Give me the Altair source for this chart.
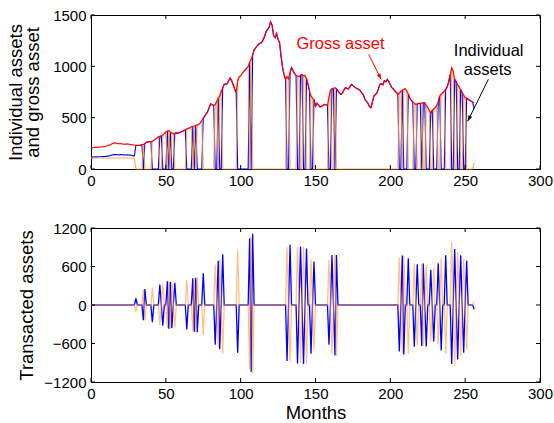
import altair as alt
import pandas as pd

# ---------------- data ----------------
month_ticks = [0, 50, 100, 150, 200, 250, 300]
asset_ticks = [0, 500, 1000, 1500]
trade_ticks = [-1200, -600, 0, 600, 1200]

# gross asset, one value per month 0..256
gross = [
    208, 209, 210, 212, 211, 213, 214, 216, 218, 220,
    222, 226, 232, 238, 245, 252, 254, 250, 248, 247,
    248, 244, 240, 242, 244, 243, 240, 238, 235, 232,
    231, 229, 230, 232, 236, 240, 248, 260, 263, 266,
    267, 272, 280, 290, 300, 313, 318, 322, 330, 345,
    360, 370, 375, 360, 350, 345, 348, 352, 350, 355,
    360, 365, 375, 380, 391, 395, 400, 410, 415, 418,
    425, 430, 433, 450, 470, 495, 515, 540, 560, 600,
    635, 625, 619, 625, 660, 690, 710, 760, 790, 824,
    828, 830, 860, 886, 860, 820, 780, 743, 860, 899,
    905, 930, 950, 964, 980, 1000, 1040, 1068, 1110, 1160,
    1180, 1200, 1215, 1225, 1231, 1260, 1290, 1339, 1360, 1380,
    1433, 1400, 1300, 1280, 1320, 1260, 1231, 1100, 987, 920,
    873, 900, 880, 940, 987, 960, 930, 912, 905, 900,
    912, 918, 910, 912, 880, 824, 760, 710, 690, 677,
    612, 640, 619, 605, 610, 620, 629, 625, 620, 700,
    769, 780, 785, 792, 780, 760, 740, 726, 740, 770,
    792, 785, 780, 800, 824, 815, 800, 790, 782, 775,
    760, 740, 720, 677, 660, 640, 610, 596, 650, 710,
    725, 740, 780, 824, 830, 820, 860, 850, 873, 850,
    820, 792, 780, 760, 745, 726, 740, 755, 770, 775,
    782, 760, 730, 694, 670, 650, 640, 629, 635, 640,
    638, 642, 645, 645, 620, 600, 570, 547, 570, 585,
    596, 620, 650, 710, 730, 740, 760, 775, 800, 850,
    920, 987, 950, 873, 850, 820, 800, 775, 745, 720,
    694, 690, 680, 670, 660, 652, 645,
]

# months 0..29: both individual assets held
blue_early = [115, 116, 117, 118, 118, 119, 120, 120, 121, 122,
              123, 125, 128, 132, 136, 140, 141, 140, 139, 138,
              140, 139, 138, 137, 138, 136, 135, 134, 130, 128]
orange_early = [107, 107, 107, 107, 107, 107, 107, 107, 107, 107,
                107, 107, 107, 107, 107, 107, 107, 107, 107, 107,
                107, 107, 107, 107, 107, 107, 107, 107, 106, 105]

# who holds the whole gross asset: (first month, last month, holder)
holder_runs = [
    (30, 34, "B"), (35, 35, "O"), (36, 40, "B"), (41, 45, "O"), (46, 47, "B"),
    (48, 50, "O"), (51, 51, "B"), (52, 52, "O"), (53, 53, "B"), (54, 55, "O"),
    (56, 63, "B"), (64, 67, "O"), (68, 68, "B"), (69, 69, "O"), (70, 70, "B"),
    (71, 74, "O"), (75, 82, "B"), (83, 84, "O"), (85, 85, "B"), (86, 87, "O"),
    (88, 97, "B"), (98, 105, "O"), (106, 106, "B"), (107, 107, "O"),
    (108, 130, "B"), (131, 132, "O"), (133, 137, "B"), (138, 139, "O"),
    (140, 141, "B"), (142, 143, "O"), (144, 146, "B"), (147, 148, "O"),
    (149, 158, "B"), (159, 160, "O"), (161, 162, "B"), (163, 163, "O"),
    (164, 205, "B"), (206, 207, "O"), (208, 208, "B"), (209, 211, "O"),
    (212, 215, "B"), (216, 217, "O"), (218, 220, "B"), (221, 221, "O"),
    (222, 223, "B"), (224, 226, "O"), (227, 228, "B"), (229, 231, "O"),
    (232, 233, "B"), (234, 236, "O"), (237, 240, "B"), (241, 242, "O"),
    (243, 244, "B"), (245, 246, "O"), (247, 248, "B"), (249, 250, "O"),
    (251, 255, "B"),
]
# last month: split again
last_blue = 585
last_orange = 60

# annotations
ann_text = ["Gross asset", "Individual", "assets"]
ann_month = [166.7, 265.7, 265.0]
ann_value = [1215, 1150, 964]
ann_color = ["#ff0000", "#000000", "#000000"]
arrow_month = [185.5, 265.5]
arrow_value = [1117, 874]
arrow_month2 = [193.9, 251.7]
arrow_value2 = [873, 465]
arrow_angle = [153, 206]
arrow_color = ["#ff0000", "#000000"]

# ---------------- build tables ----------------
N = len(gross)
holder = ["S"] * N
for s, e, h in holder_runs:
    for t in range(s, e + 1):
        holder[t] = h
blue, orange = [], []
for t in range(N):
    if t < 30:
        blue.append(blue_early[t]); orange.append(orange_early[t])
    elif holder[t] == "B":
        blue.append(gross[t]); orange.append(0)
    elif holder[t] == "O":
        blue.append(0); orange.append(gross[t])
    else:
        blue.append(last_blue); orange.append(last_orange)
blue_tx, orange_tx = [0], [0]
for t in range(1, N):
    if holder[t] != holder[t - 1] and t >= 30:
        blue_tx.append(blue[t] - blue[t - 1])
        orange_tx.append(orange[t] - orange[t - 1])
    else:
        blue_tx.append(0); orange_tx.append(0)

months = list(range(N))
df = pd.DataFrame({"month": months, "gross": gross, "blue": blue, "orange": orange,
                   "blue_tx": blue_tx, "orange_tx": orange_tx})
ann = pd.DataFrame({"text": ann_text, "month": ann_month, "value": ann_value, "color": ann_color})
arr = pd.DataFrame({"m": arrow_month, "v": arrow_value, "m2": arrow_month2, "v2": arrow_value2,
                    "angle": arrow_angle, "color": arrow_color})

W, H = 449, 154
FONT = "Liberation Sans"
xs = alt.Scale(domain=[0, 300], nice=False, zero=False)
ys_top = alt.Scale(domain=[0, 1500], nice=False)
ys_bot = alt.Scale(domain=[-1200, 1200], nice=False)


def xaxis(title=None):
    return alt.Axis(values=month_ticks, ticks=False, tickSize=0, domain=False, grid=False,
                    labelFontSize=15, labelPadding=4, labelFlush=False, labelOverlap=False,
                    labelColor="black", format="d", title=title,
                    titleFontSize=18.5, titleFontWeight="normal",
                    titleColor="black", titlePadding=2)


def yaxis(values, title, tpad):
    return alt.Axis(values=values, ticks=False, tickSize=0, domain=False, grid=False,
                    labelFontSize=15, labelPadding=5, labelColor="black", format="d",
                    labelOverlap=False, labelFlush=False, title=title,
                    titleFontSize=18.5, titleFontWeight="normal", titleColor="black",
                    titlePadding=tpad, titleLineHeight=17)


XA_TOP = xaxis(None)
XA_BOT = xaxis("Months")
YA_TOP = yaxis(asset_ticks, ["Individual assets", "and gross asset"], 10)
YA_BOT = yaxis(trade_ticks, "Transacted assets", 7)


def tick_layers(yvals, yscale, xa, ya):
    tx = pd.DataFrame({"t": month_ticks})
    ty = pd.DataFrame({"t": yvals})
    b = alt.Chart(tx).mark_rule(color="black", strokeWidth=1).encode(
        x=alt.X("t:Q", scale=xs, axis=xa), y=alt.value(H), y2=alt.value(H - 4))
    t = alt.Chart(tx).mark_rule(color="black", strokeWidth=1).encode(
        x=alt.X("t:Q", scale=xs, axis=xa), y=alt.value(0), y2=alt.value(4))
    l = alt.Chart(ty).mark_rule(color="black", strokeWidth=1).encode(
        y=alt.Y("t:Q", scale=yscale, axis=ya), x=alt.value(0), x2=alt.value(4))
    r = alt.Chart(ty).mark_rule(color="black", strokeWidth=1).encode(
        y=alt.Y("t:Q", scale=yscale, axis=ya), x=alt.value(W - 4), x2=alt.value(W))
    return [b, t, l, r]


base = alt.Chart(df)
top_blue = base.mark_line(color="#0000ff", strokeWidth=1.1).encode(
    x=alt.X("month:Q", scale=xs, axis=XA_TOP),
    y=alt.Y("blue:Q", scale=ys_top, axis=YA_TOP))
top_orange = base.mark_line(color="#ff9933", strokeWidth=1.2, opacity=0.8).encode(
    x=alt.X("month:Q", scale=xs, axis=XA_TOP), y=alt.Y("orange:Q", scale=ys_top, axis=YA_TOP))
top_red = base.mark_line(color="#ff0000", strokeWidth=1.3, opacity=0.9).encode(
    x=alt.X("month:Q", scale=xs, axis=XA_TOP), y=alt.Y("gross:Q", scale=ys_top, axis=YA_TOP))
ann_layer = alt.Chart(ann).mark_text(fontSize=16.5, font=FONT, align="center",
                                     baseline="middle").encode(
    x=alt.X("month:Q", scale=xs, axis=XA_TOP), y=alt.Y("value:Q", scale=ys_top, axis=YA_TOP),
    text="text:N", color=alt.Color("color:N", scale=None))
arrow_line = alt.Chart(arr).mark_rule(strokeWidth=1).encode(
    x=alt.X("m:Q", scale=xs, axis=XA_TOP), y=alt.Y("v:Q", scale=ys_top, axis=YA_TOP),
    x2="m2:Q", y2="v2:Q", color=alt.Color("color:N", scale=None))
arrow_head = alt.Chart(arr).mark_point(shape="M0,0L-0.45,1.2L0.45,1.2Z", filled=True,
                                       size=90, opacity=1).encode(
    x=alt.X("m2:Q", scale=xs, axis=XA_TOP), y=alt.Y("v2:Q", scale=ys_top, axis=YA_TOP),
    angle=alt.Angle("angle:Q", scale=None), color=alt.Color("color:N", scale=None))

top = alt.layer(top_blue, top_orange, top_red, ann_layer, arrow_line, arrow_head,
                *tick_layers(asset_ticks, ys_top, XA_TOP, YA_TOP)).properties(width=W, height=H)

bot_blue = base.mark_line(color="#0000ff", strokeWidth=1.3).encode(
    x=alt.X("month:Q", scale=xs, axis=XA_BOT),
    y=alt.Y("blue_tx:Q", scale=ys_bot, axis=YA_BOT))
bot_orange = base.mark_line(color="#ff9933", strokeWidth=1.3, opacity=0.6).encode(
    x=alt.X("month:Q", scale=xs, axis=XA_BOT), y=alt.Y("orange_tx:Q", scale=ys_bot, axis=YA_BOT))
bottom = alt.layer(bot_blue, bot_orange,
                   *tick_layers(trade_ticks, ys_bot, XA_BOT, YA_BOT)).properties(
    width=W, height=H)

chart = alt.vconcat(top, bottom, spacing=31).properties(
    padding={"left": 6, "top": 7, "right": 0, "bottom": 0}, background="white"
).configure(font=FONT).configure_view(stroke="black", strokeWidth=1)

chart.save("out.html", embed_options={"renderer": "svg", "actions": False})
